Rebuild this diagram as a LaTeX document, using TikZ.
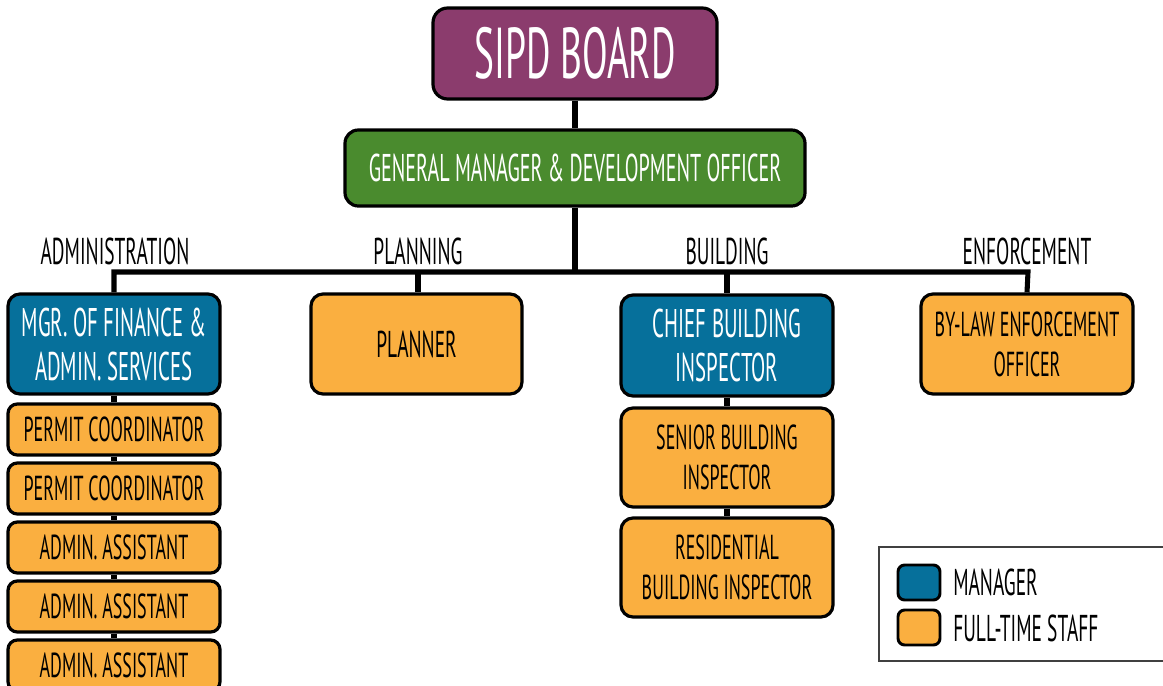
\documentclass[tikz,border=0pt]{standalone}
\usepackage{fontspec}
\setmainfont{PT Sans}[FakeStretch=0.52]
\usetikzlibrary{backgrounds}
\definecolor{boardc}{HTML}{8B3C6D}
\definecolor{gmc}{HTML}{4A8B2E}
\definecolor{mgrc}{HTML}{06709B}
\definecolor{staffc}{HTML}{FAAF40}
\tikzset{
  box/.style={draw=black, line width=2.4pt, rounded corners=9pt, align=center, inner sep=0pt},
  mgrbox/.style={box, fill=mgrc, text=white, font=\fontsize{30}{33}\selectfont},
  staffbox/.style={box, fill=staffc, text=black, font=\fontsize{28}{32}\selectfont},
  smallstaff/.style={box, fill=staffc, text=black, font=\fontsize{26}{30}\selectfont, minimum width=212*0.75pt, minimum height=51*0.75pt, rounded corners=7pt},
  wide/.style={minimum width=212*0.75pt, minimum height=100*0.75pt},
  conn/.style={line width=3.8pt, black},
  dept/.style={font=\fontsize{28}{32}\selectfont, text=black},
  legsq/.style={draw=black, line width=2.2pt, rounded corners=5pt, minimum width=42*0.75pt, minimum height=35*0.75pt, inner sep=0pt},
  legtxt/.style={font=\fontsize{28}{32}\selectfont, anchor=west, inner sep=0pt}
}
\begin{document}
\begin{tikzpicture}[x=0.75pt,y=-0.75pt]
\useasboundingbox (0,0) rectangle (1163,685);
% top
\node[box, fill=boardc, text=white, font=\fontsize{54}{58}\selectfont, minimum width=284*0.75pt, minimum height=91*0.75pt, rounded corners=11pt] (board) at (575,53.5) {SIPD BOARD};
\node[box, fill=gmc, text=white, font=\fontsize{29}{33}\selectfont, minimum width=460*0.75pt, minimum height=76*0.75pt, rounded corners=10pt] (gm) at (575,168) {GENERAL MANAGER \& DEVELOPMENT OFFICER};
% department heads
\node[mgrbox, wide] (mgr) at (114,344) {MGR. OF FINANCE \&\\ADMIN. SERVICES};
\node[staffbox, wide, minimum width=211*0.75pt] (planner) at (416.5,344) {PLANNER};
\node[mgrbox, wide, minimum height=101*0.75pt] (chief) at (727,345.5) {CHIEF BUILDING\\INSPECTOR};
\node[staffbox, wide, font=\fontsize{26}{30}\selectfont] (bylaw) at (1027,344) {BY-LAW ENFORCEMENT\\OFFICER};
% administration staff
\node[smallstaff] (pc1) at (114,429.5) {PERMIT COORDINATOR};
\node[smallstaff] (pc2) at (114,488.5) {PERMIT COORDINATOR};
\node[smallstaff] (aa1) at (114,547.5) {ADMIN. ASSISTANT};
\node[smallstaff] (aa2) at (114,606.5) {ADMIN. ASSISTANT};
\node[smallstaff] (aa3) at (114,665.5) {ADMIN. ASSISTANT};
% building staff
\node[staffbox, wide, minimum height=99*0.75pt, font=\fontsize{26}{30}\selectfont] (senior) at (727,457.5) {SENIOR BUILDING\\INSPECTOR};
\node[staffbox, wide, minimum height=99*0.75pt, font=\fontsize{26}{30}\selectfont] (resid) at (727,567.5) {RESIDENTIAL\\BUILDING INSPECTOR};
% department labels
\node[dept] (ladm) at (115,251) {ADMINISTRATION};
\node[dept] (lpla) at (418,251) {PLANNING};
\node[dept] (lbui) at (727,251) {BUILDING};
\node[dept] (lenf) at (1027,251) {ENFORCEMENT};
% bus coordinates
\coordinate (jA) at (114,272);
\coordinate (jP) at (418,272);
\coordinate (jG) at (575,272);
\coordinate (jB) at (727,272);
\coordinate (jE) at (1028,272);
\begin{scope}[on background layer]
\draw[conn] (board.south) -- (gm.north);
\draw[conn] (gm.south) -- (jG);
\draw[conn, line join=miter] (mgr.north) -- (jA) -- (jE) -- (bylaw.north);
\draw[conn] (jP) -- (planner.north -| jP);
\draw[conn] (jB) -- (chief.north);
\draw[conn] (mgr.south) -- (pc1.north);
\draw[conn] (pc1.south) -- (pc2.north);
\draw[conn] (pc2.south) -- (aa1.north);
\draw[conn] (aa1.south) -- (aa2.north);
\draw[conn] (aa2.south) -- (aa3.north);
\draw[conn] (chief.south) -- (senior.north);
\draw[conn] (senior.south) -- (resid.north);
\end{scope}
% legend
\node[draw=black!75, line width=1pt, minimum width=292*0.75pt, minimum height=114*0.75pt, inner sep=0pt] (legend) at (1025,604) {};
\node[legsq, fill=mgrc] (lgm) at (919,582.5) {};
\node[legsq, fill=staffc] (lgs) at (919,627.5) {};
\node[legtxt] (lgmt) at (953,582.5) {MANAGER};
\node[legtxt] (lgst) at (953,628) {FULL-TIME STAFF};
\end{tikzpicture}
\end{document}
